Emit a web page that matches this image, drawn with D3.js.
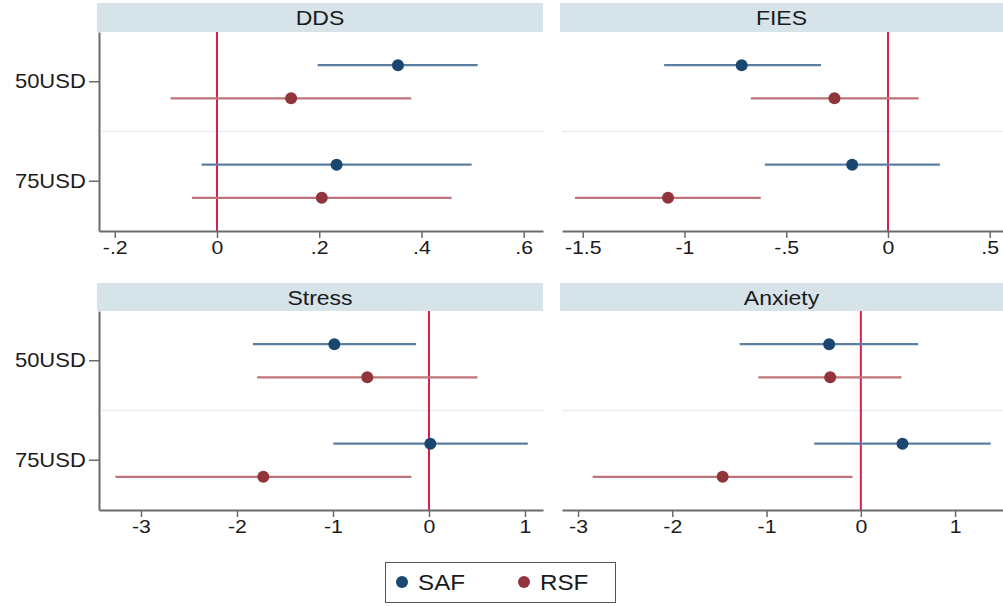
<!DOCTYPE html>
<html><head><meta charset="utf-8">
<script src="https://cdn.jsdelivr.net/npm/d3@7/dist/d3.min.js"></script>
<style>body{margin:0;background:#fff}svg{display:block}text{font-family:"Liberation Sans",Arial,sans-serif}</style>
</head><body>
<svg id="c" width="1003" height="606"></svg>
<script>
const panels = ["DDS", "FIES", "Stress", "Anxiety"];
const categories = ["50USD", "75USD"];
const series = ["SAF", "RSF"];
// per panel: [50USD, 75USD]
const estSAF = [[0.354, 0.234], [-0.719, -0.176], [-0.986, 0.014], [-0.336, 0.442]];
const loSAF  = [[0.197, -0.030], [-1.100, -0.605], [-1.834, -0.996], [-1.286, -0.495]];
const hiSAF  = [[0.510, 0.498], [-0.329, 0.255], [-0.134, 1.029], [0.608, 1.378]];
const estRSF = [[0.145, 0.205], [-0.263, -1.081], [-0.643, -1.726], [-0.325, -1.466]];
const loRSF  = [[-0.091, -0.049], [-0.674, -1.538], [-1.790, -3.267], [-1.088, -2.845]];
const hiRSF  = [[0.380, 0.459], [0.151, -0.625], [0.505, -0.184], [0.431, -0.088]];
const ticksDDS = [-0.2, 0, 0.2, 0.4, 0.6];
const ticksFIES = [-1.5, -1, -0.5, 0, 0.5];
const ticksStress = [-3, -2, -1, 0, 1];
const ticksAnxiety = [-3, -2, -1, 0, 1];
const tickLabelsDDS = ["-.2", "0", ".2", ".4", ".6"];
const tickLabelsFIES = ["-1.5", "-1", "-.5", "0", ".5"];
const tickLabelsStress = ["-3", "-2", "-1", "0", "1"];
const tickLabelsAnxiety = ["-3", "-2", "-1", "0", "1"];
const domains = [[-0.2308, 0.6377], [-1.602, 0.580], [-3.4375, 1.1875], [-3.17, 1.54]];

const allTicks = [ticksDDS, ticksFIES, ticksStress, ticksAnxiety];
const allLabels = [tickLabelsDDS, tickLabelsFIES, tickLabelsStress, tickLabelsAnxiety];
const colors = {SAF: "#1a476f", RSF: "#90353b"};
const ciColors = {SAF: "#5b7fa1", RSF: "#bf7479"};
const est = {SAF: estSAF, RSF: estRSF}, lo = {SAF: loSAF, RSF: loRSF}, hi = {SAF: hiSAF, RSF: hiRSF};
const FONT = '"Liberation Sans",Arial,sans-serif';

const svg = d3.select("#c");
const boxes = [
  {x0: 99, x1: 543, hy: 3, y0: 32, y1: 231, left: true},
  {x0: 562, x1: 1006, hy: 3, y0: 32, y1: 231, left: false},
  {x0: 99, x1: 543, hy: 283, y0: 311, y1: 510, left: true},
  {x0: 562, x1: 1006, hy: 283, y0: 311, y1: 510, left: false}
];

panels.forEach((p, pi) => {
  const b = boxes[pi];
  const g = svg.append("g");
  const x = d3.scaleLinear().domain(domains[pi]).range([b.x0, b.x1]);
  const y = d3.scaleBand().domain(categories).range([b.y0, b.y1]);
  const ys = d3.scalePoint().domain(series).range([0, y.bandwidth()]).padding(1);

  // strip
  g.append("rect").attr("x", b.x0 - 2).attr("y", b.hy).attr("width", b.x1 - b.x0 + 2).attr("height", b.y0 - b.hy)
    .attr("fill", "#d6e4ea");
  const cx = (b.x0 - 2 + Math.min(b.x1, 1003)) / 2;
  g.append("text").attr("transform", `translate(${cx},${b.hy + 22}) scale(1.15,1)`)
    .attr("text-anchor", "middle").attr("font-size", 20).attr("fill", "#1a1a1a").text(p);

  // separator
  g.append("line").attr("x1", b.x0).attr("x2", b.x1).attr("y1", b.y0 + y.bandwidth()).attr("y2", b.y0 + y.bandwidth())
    .attr("stroke", "#e6eef1").attr("stroke-width", 1.5);

  // zero line
  g.append("line").attr("x1", x(0)).attr("x2", x(0)).attr("y1", b.y0).attr("y2", b.y1)
    .attr("stroke", "#d61f4c").attr("stroke-width", 2);

  // CI and points
  series.forEach(s => {
    categories.forEach((c, ci) => {
      const yy = y(c) + ys(s);
      g.append("line").attr("x1", x(lo[s][pi][ci])).attr("x2", x(hi[s][pi][ci])).attr("y1", yy).attr("y2", yy)
        .attr("stroke", ciColors[s]).attr("stroke-width", 2.4);
      g.append("circle").attr("cx", x(est[s][pi][ci])).attr("cy", yy).attr("r", 6).attr("fill", colors[s]);
    });
  });

  // x axis
  const xa = g.append("g").attr("transform", `translate(0,${b.y1})`)
    .call(d3.axisBottom(x).tickValues(allTicks[pi]).tickFormat((d, i) => allLabels[pi][i]).tickSize(7).tickSizeOuter(0).tickPadding(3));
  xa.select(".domain").attr("stroke", "#6b6b6b").attr("stroke-width", 2);
  xa.selectAll(".tick line").attr("stroke", "#6b6b6b").attr("stroke-width", 1.5);
  xa.selectAll("text").attr("font-size", 19).attr("fill", "#1a1a1a").attr("font-family", FONT)
    .attr("transform", "scale(1.12,1)");

  if (b.left) {
    const ya = g.append("g").attr("transform", `translate(${b.x0},0)`)
      .call(d3.axisLeft(y).tickSize(10).tickSizeOuter(0).tickPadding(3));
    ya.select(".domain").attr("stroke", "#6b6b6b").attr("stroke-width", 2);
    ya.selectAll(".tick line").attr("stroke", "#6b6b6b").attr("stroke-width", 1.5);
    ya.selectAll("text").attr("font-size", 20).attr("fill", "#1a1a1a").attr("font-family", FONT)
      .attr("x", -12).attr("transform", "scale(1.1,1)");
  }
});

// legend
const lg = svg.append("g");
lg.append("rect").attr("x", 385.5).attr("y", 562.5).attr("width", 230).attr("height", 40)
  .attr("fill", "#fff").attr("stroke", "#555").attr("stroke-width", 1);
const legX = d3.scalePoint().domain(series).range([402, 524]);
series.forEach(s => {
  lg.append("circle").attr("cx", legX(s)).attr("cy", 582).attr("r", 6).attr("fill", colors[s]);
  lg.append("text").attr("transform", `translate(${legX(s) + 16},590) scale(1.1,1)`)
    .attr("font-size", 22).attr("fill", "#1a1a1a").text(s);
});
</script>
</body></html>
